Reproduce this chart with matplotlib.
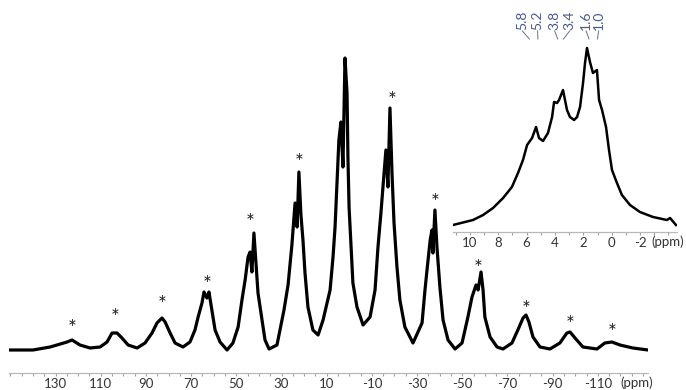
import matplotlib
matplotlib.use('Agg')
import matplotlib.pyplot as plt
from matplotlib.ticker import MultipleLocator, FixedLocator

plt.rcParams['font.family'] = ['Lato', 'DejaVu Sans']
plt.rcParams['axes.unicode_minus'] = False

# main spectrum (ppm, intensity above baseline)
main_ppm = [150.1, 140.0, 132.4, 124.9, 122.7, 119.2, 114.7, 110.3, 107.2, 105.0,
            102.8, 100.6, 97.9, 93.9, 90.4, 87.3, 85.1, 82.9, 81.5, 79.3,
            77.1, 73.6, 70.5, 68.3, 66.9, 65.2, 64.3, 63.0, 62.1, 60.8,
            59.4, 57.2, 54.1, 51.5, 49.2, 47.5, 46.1, 44.8, 43.9, 43.1,
            42.2, 41.3, 40.4, 38.6, 37.3, 35.5, 32.0, 28.9, 27.1, 25.4,
            24.0, 23.1, 22.3, 21.4, 20.5, 19.6, 18.3, 16.1, 13.8, 11.6,
            8.5, 7.2, 6.3, 5.4, 4.6, 3.7, 2.8, 1.9, 1.0, 0.6,
            0.1, -0.8, -1.6, -3.4, -6.1, -9.2, -11.4, -12.7, -14.0, -15.4,
            -16.2, -17.1, -18.0, -18.9, -19.8, -21.1, -22.4, -24.6, -28.2, -32.2,
            -33.5, -34.4, -35.8, -36.6, -37.0, -37.9, -38.8, -40.1, -41.5, -43.7,
            -46.8, -49.9, -52.5, -54.3, -56.1, -57.0, -58.3, -59.2, -60.0, -62.3,
            -65.4, -68.0, -72.0, -74.6, -76.9, -78.2, -79.5, -81.3, -84.4, -88.8,
            -93.2, -96.3, -97.7, -99.9, -103.4, -109.6, -113.1, -116.2, -119.8, -125.5,
            -132.2]
main_int = [0, 0, 3, 8, 10, 5, 2, 3, 8, 17,
            17, 12, 5, 2, 7, 17, 27, 32, 28, 17,
            7, 3, 8, 20, 33, 47, 58, 52, 58, 40,
            20, 8, 0, 7, 23, 50, 70, 93, 98, 78,
            117, 87, 57, 30, 10, 1, 5, 40, 65, 105,
            147, 123, 178, 135, 110, 77, 43, 20, 15, 30,
            60, 93, 123, 170, 210, 228, 183, 292, 257, 193,
            143, 103, 67, 43, 25, 33, 60, 103, 137, 177,
            200, 163, 242, 177, 127, 83, 50, 23, 7, 27,
            60, 80, 110, 120, 97, 140, 103, 63, 30, 10,
            1, 7, 33, 53, 65, 60, 78, 60, 33, 13,
            3, 1, 7, 20, 32, 35, 28, 13, 3, 1,
            7, 17, 18, 12, 3, 1, 7, 8, 5, 2,
            0]

# spinning sideband markers
star_ppm = [122.7, 103.7, 82.9, 63.0, 43.9, 22.3, -18.9, -37.9, -57.0, -78.2, -97.7, -116.2]
star_int = [24, 35, 48, 68, 130, 190, 252, 150, 84, 43, 28, 20]

# inset: expanded centre band
inset_ppm = [11.18, 9.77, 9.06, 8.36, 7.65, 7.03, 6.60, 6.25, 5.96, 5.61,
             5.33, 5.12, 4.84, 4.49, 4.20, 4.06, 3.85, 3.71, 3.43, 3.29,
             3.15, 2.94, 2.65, 2.44, 2.23, 2.02, 1.88, 1.74, 1.53, 1.32,
             1.04, 0.89, 0.68, 0.40, 0.19, -0.02, -0.37, -0.72, -1.29, -1.99,
             -2.91, -3.89, -4.11, -4.53]
inset_int = [0, 5, 10, 17, 27, 38, 52, 65, 80, 87,
             98, 87, 84, 92, 108, 123, 122, 125, 135, 125,
             115, 108, 105, 108, 118, 142, 162, 177, 163, 152,
             155, 125, 115, 98, 75, 55, 42, 30, 20, 13,
             8, 5, 7, 0]

peak_labels = ['5.8', '5.2', '3.8', '3.4', '1.6', '1.0']
peak_ppm = [5.8, 5.2, 3.8, 3.4, 1.6, 1.0]
label_ppm = [6.30, 5.22, 4.02, 2.96, 1.80, 0.92]

fig = plt.figure(figsize=(6.86, 3.9), dpi=100)
W, H = 686, 390

def add_ax(x0, x1, y_top, y_bot):
    return fig.add_axes([x0 / W, (H - y_bot) / H, (x1 - x0) / W, (y_bot - y_top) / H])

def style_ax(ax):
    for s in ['top', 'right', 'left']:
        ax.spines[s].set_visible(False)
    ax.spines['bottom'].set_color('#b8b8b8')
    ax.spines['bottom'].set_linewidth(0.9)
    ax.set_yticks([])
    ax.patch.set_alpha(0)
    ax.tick_params(axis='x', which='both', direction='out', length=2.5, width=0.8,
                   color='#a0a0a0', labelsize=9.5, labelcolor='#333333', pad=1)

# main spectrum
ax = add_ax(9, 648, 40, 373)
ax.plot(main_ppm, main_int, color='black', lw=2.3)
ax.set_xlim(150.6, -132.2)
ax.set_ylim(-23, 310)
ax.xaxis.set_major_locator(FixedLocator(list(range(130, -111, -20))))
ax.xaxis.set_minor_locator(MultipleLocator(5))
style_ax(ax)
for p, v in zip(star_ppm, star_int):
    ax.text(p, v - 3, '*', ha='center', va='center', fontsize=15, color='#222222')
fig.text(637 / W, 1 - 383 / H, '(ppm)', ha='center', va='center',
         fontsize=9.5, color='#333333')

# inset
ax2 = add_ax(453, 677, 5, 232)
ax2.plot(inset_ppm, inset_int, color='black', lw=1.8)
ax2.set_xlim(11.18, -4.6)
ax2.set_ylim(-7, 220)
ax2.xaxis.set_major_locator(FixedLocator(list(range(10, -3, -2))))
ax2.xaxis.set_minor_locator(MultipleLocator(1))
style_ax(ax2)
fig.text(668 / W, 1 - 242 / H, '(ppm)', ha='center', va='center',
         fontsize=9.5, color='#333333')

for lab, p, lp in zip(peak_labels, peak_ppm, label_ppm):
    ax2.plot([lp, p], [194, 186], color='#6070a0', lw=0.7)
    ax2.text(lp, 195.5, lab, rotation=90, ha='center', va='bottom',
             fontsize=10, color='#4a5a8c')

fig.savefig('out.png', dpi=100)
